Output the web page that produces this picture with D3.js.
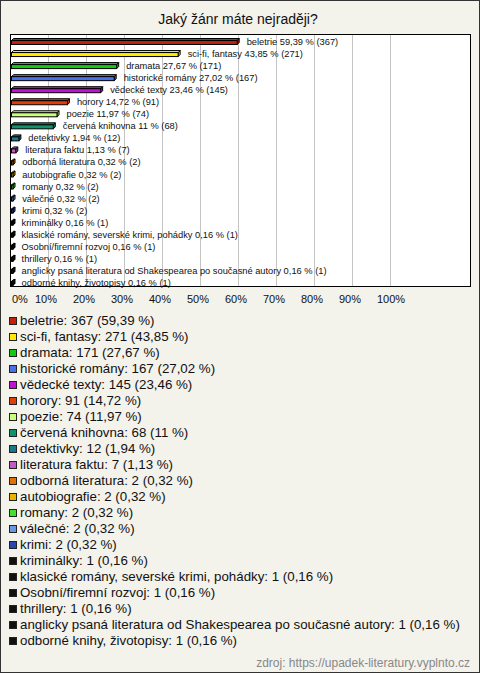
<!DOCTYPE html>
<html>
<head>
<meta charset="utf-8">
<script src="https://cdn.jsdelivr.net/npm/d3@7"></script>
<style>
  html, body { margin: 0; padding: 0; background: #f3f2eb; }
  svg { display: block; }
  text { font-family: "Liberation Sans", Arial, sans-serif; }
</style>
</head>
<body>
<svg id="chart" width="480" height="673"></svg>
<script>
const title = "Jaký žánr máte nejraději?";
const categories = ["beletrie","sci-fi, fantasy","dramata","historické romány","vědecké texty","horory","poezie","červená knihovna","detektivky","literatura faktu","odborná literatura","autobiografie","romany","válečné","krimi","kriminálky","klasické romány, severské krimi, pohádky","Osobní/firemní rozvoj","thrillery","anglicky psaná literatura od Shakespearea po současné autory","odborné knihy, životopisy"];
const counts = [367,271,171,167,145,91,74,68,12,7,2,2,2,2,2,1,1,1,1,1,1];
const percents = [59.39,43.85,27.67,27.02,23.46,14.72,11.97,11,1.94,1.13,0.32,0.32,0.32,0.32,0.32,0.16,0.16,0.16,0.16,0.16,0.16];
const colors = ["#c0200c","#ffea00","#14c814","#4a70e8","#c012d4","#e04008","#c8ff7c","#10926a","#1a7888","#c25cc2","#e07008","#e8b400","#44e030","#6a98e0","#2848b0","#111111","#111111","#111111","#111111","#111111","#111111"];
const tickValues = [0,10,20,30,40,50,60,70,80,90,100];
const source = "zdroj: https://upadek-literatury.vyplnto.cz";

const fmt = p => String(p).replace(".", ",");

const svg = d3.select("#chart");
const W = 480, H = 673;

// outer frame
svg.append("rect").attr("x",0.5).attr("y",0.5).attr("width",W-1).attr("height",H-1)
  .attr("fill","#f3f2eb").attr("stroke","#333").attr("stroke-width",1);

// title
svg.append("text").attr("x",238).attr("y",24).attr("text-anchor","middle")
  .attr("font-size",14).attr("fill","#111").text(title);

// plot area
const plot = {x0: 10.5, y0: 34.5, x1: 470.5, y1: 286.5};
svg.append("rect").attr("x",plot.x0).attr("y",plot.y0)
  .attr("width",plot.x1-plot.x0).attr("height",plot.y1-plot.y0)
  .attr("fill","#fff");

const x = d3.scaleLinear().domain([0,100]).range([11,391]);
const y = d3.scaleBand().domain(categories).range([34,287]);

// gridlines
svg.append("g").selectAll("line").data(tickValues.filter(v=>v>0)).join("line")
  .attr("x1",d=>Math.round(x(d))-0.5).attr("x2",d=>Math.round(x(d))-0.5)
  .attr("y1",plot.y0).attr("y2",plot.y1)
  .attr("stroke","#c4c4c4").attr("stroke-width",1);

svg.append("rect").attr("x",plot.x0).attr("y",plot.y0)
  .attr("width",plot.x1-plot.x0).attr("height",plot.y1-plot.y0)
  .attr("fill","none").attr("stroke","#000").attr("stroke-width",1);

// tick labels
svg.append("g").selectAll("text").data(tickValues).join("text")
  .attr("x",d=> d===0 ? x(0)+1 : x(d)-14)
  .attr("y",303)
  .attr("font-size",11).attr("fill","#111")
  .text(d=>d+"%");

// 3D bars
const depth = 2;
const rows = categories.map((c,i)=>({c, n:counts[i], p:percents[i], col:colors[i]}));
const bars = svg.append("g").selectAll("g").data(rows).join("g");
bars.each(function(d){
  const g = d3.select(this);
  const xa = x(0) + 0.5;
  const xb = Math.max(x(d.p), xa + 1) + 0.5;
  const yt = y(d.c) + 6.5;
  const yb = yt + 4;
  g.append("path")
    .attr("d",`M${xb},${yt}L${xb+depth},${yt-depth}L${xb+depth},${yb-depth}L${xb},${yb}Z`)
    .attr("fill",d3.color(d.col).darker(0.4)).attr("stroke","#000").attr("stroke-width",1);
  g.append("path")
    .attr("d",`M${xa},${yt}L${xa+depth},${yt-depth}L${xb+depth},${yt-depth}L${xb},${yt}Z`)
    .attr("fill",d3.color(d.col).brighter(0.2)).attr("stroke","#000").attr("stroke-width",1);
  g.append("rect").attr("x",xa).attr("y",yt).attr("width",xb-xa).attr("height",yb-yt)
    .attr("fill",d.col).attr("stroke","#000").attr("stroke-width",1);
});

// bar labels
svg.append("g").selectAll("text").data(rows).join("text")
  .attr("x",d=>x(d.p)+10)
  .attr("y",d=>y(d.c)+11)
  .attr("font-size",9.3).attr("fill","#111")
  .text(d=>`${d.c} ${fmt(d.p)} % (${d.n})`);

// legend
const leg = svg.append("g").selectAll("g").data(rows).join("g")
  .attr("transform",(d,i)=>`translate(0,${325 + i*16})`);
leg.append("rect").attr("x",9.5).attr("y",-7.5).attr("width",7).attr("height",7)
  .attr("fill",d=>d.col).attr("stroke","#222").attr("stroke-width",1);
leg.append("text").attr("x",20).attr("y",0).attr("font-size",13.3).attr("fill","#111")
  .text(d=>`${d.c}: ${d.n} (${fmt(d.p)} %)`);

// source
svg.append("text").attr("x",470).attr("y",667).attr("text-anchor","end")
  .attr("font-size",12).attr("fill","#888").text(source);
</script>
</body>
</html>
